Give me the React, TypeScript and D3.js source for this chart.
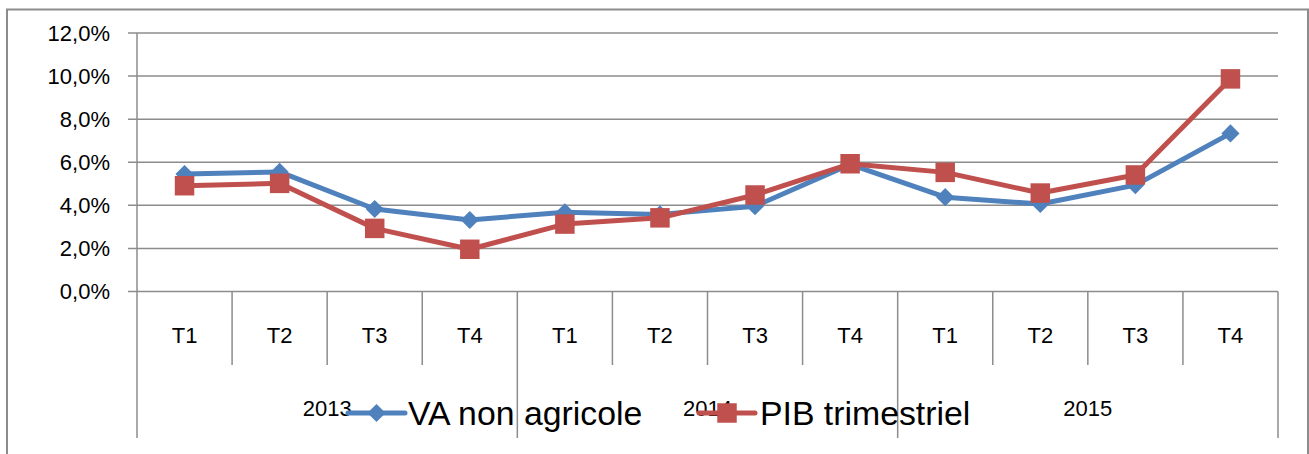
import React, { useEffect, useRef } from "react";
import * as d3 from "d3";

// chart data
const years = ["2013", "2014", "2015"];
const quarters = ["T1", "T2", "T3", "T4"];
const vaNonAgricole = [5.45, 5.55, 3.83, 3.32, 3.68, 3.58, 3.96, 5.9, 4.38, 4.06, 4.94, 7.34];
const pibTrimestriel = [4.91, 5.02, 2.93, 1.96, 3.13, 3.42, 4.48, 5.93, 5.53, 4.57, 5.41, 9.87];
const yTicks = [0, 2, 4, 6, 8, 10, 12];
const seriesNames = ["VA non agricole", "PIB trimestriel"];
const seriesColors = ["#4f81bd", "#c0504d"];

const FONT = "'Liberation Sans', Arial, sans-serif";
const GRID = "#8c8c8c";

const drawChart = (node: SVGSVGElement) => {
  const svg = d3.select(node);
  svg.selectAll("*").remove();

  const left = 137, right = 1278, top = 33, bottom = 291.5;

  // outer frame
  svg.append("rect")
    .attr("x", 7).attr("y", 9.5).attr("width", 1301).attr("height", 470)
    .attr("fill", "#fff").attr("stroke", GRID).attr("stroke-width", 2);

  const keys = years.flatMap(yr => quarters.map(q => yr + "-" + q));
  const x = d3.scaleBand().domain(keys).range([left, right]).padding(0);
  const bw = x.bandwidth();
  const cx = (i: number) => (x(keys[i]) as number) + bw / 2;
  const y = d3.scaleLinear().domain([0, 12]).range([bottom, top]);

  // gridlines + left ticks + labels
  const g = svg.append("g");
  yTicks.forEach(t => {
    g.append("line")
      .attr("x1", 128).attr("x2", right).attr("y1", y(t)).attr("y2", y(t))
      .attr("stroke", GRID).attr("stroke-width", 1.5);
    g.append("text")
      .attr("x", 110).attr("y", y(t)).attr("dy", "0.36em")
      .attr("text-anchor", "end")
      .attr("font-family", FONT).attr("font-size", 22).attr("fill", "#000")
      .text(d3.format(".1f")(t).replace(".", ",") + "%");
  });
  // vertical value axis
  g.append("line")
    .attr("x1", left).attr("x2", left).attr("y1", top).attr("y2", 438)
    .attr("stroke", GRID).attr("stroke-width", 1.5);

  // category separators
  keys.forEach((k, i) => {
    if (i === 0) return;
    const xx = x(k) as number;
    const yearEdge = i % quarters.length === 0;
    g.append("line")
      .attr("x1", xx).attr("x2", xx).attr("y1", bottom).attr("y2", yearEdge ? 438 : 365)
      .attr("stroke", GRID).attr("stroke-width", 1.5);
  });
  g.append("line")
    .attr("x1", right).attr("x2", right).attr("y1", bottom).attr("y2", 438)
    .attr("stroke", GRID).attr("stroke-width", 1.5);

  // quarter labels
  keys.forEach((k, i) => {
    g.append("text")
      .attr("x", cx(i)).attr("y", 343)
      .attr("text-anchor", "middle")
      .attr("font-family", FONT).attr("font-size", 22).attr("fill", "#000")
      .text(quarters[i % quarters.length]);
  });
  // year labels
  years.forEach(yr => {
    const start = x(yr + "-T1") as number;
    g.append("text")
      .attr("x", start + bw * 2).attr("y", 416)
      .attr("text-anchor", "middle")
      .attr("font-family", FONT).attr("font-size", 22).attr("fill", "#000")
      .text(yr);
  });

  // series
  const line = d3.line<number>().x((d, i) => cx(i)).y(d => y(d));
  const diamond = d3.symbol().type(d3.symbolSquare).size(165);
  const square = d3.symbol().type(d3.symbolSquare).size(380);

  [vaNonAgricole, pibTrimestriel].forEach((vals, s) => {
    const sg = svg.append("g");
    sg.append("path")
      .attr("d", line(vals) as string)
      .attr("fill", "none")
      .attr("stroke", seriesColors[s])
      .attr("stroke-width", 5)
      .attr("stroke-linejoin", "round");
    sg.selectAll("path.m")
      .data(vals)
      .enter()
      .append("path")
      .attr("class", "m")
      .attr("d", s === 0 ? diamond() : square())
      .attr("transform", (d, i) => `translate(${cx(i)},${y(d)})` + (s === 0 ? " rotate(45)" : ""))
      .attr("fill", seriesColors[s]);
  });

  // legend
  const legendItems = [
    { x1: 348, x2: 405, tx: 408 },
    { x1: 699, x2: 755, tx: 760 },
  ];
  legendItems.forEach((it, s) => {
    const lg = svg.append("g");
    lg.append("line")
      .attr("x1", it.x1).attr("x2", it.x2).attr("y1", 413).attr("y2", 413)
      .attr("stroke", seriesColors[s]).attr("stroke-width", 5).attr("stroke-linecap", "round");
    lg.append("path")
      .attr("d", s === 0 ? diamond() : square())
      .attr("transform", `translate(${(it.x1 + it.x2) / 2},413)` + (s === 0 ? " rotate(45)" : ""))
      .attr("fill", seriesColors[s]);
    lg.append("text")
      .attr("x", it.tx).attr("y", 425)
      .attr("font-family", FONT).attr("font-size", 33.8).attr("fill", "#000")
      .text(seriesNames[s]);
  });
};

export default function App() {
  const ref = useRef<SVGSVGElement>(null);
  useEffect(() => {
    if (ref.current) drawChart(ref.current);
  }, []);
  return (
    <svg
      ref={ref}
      width={1309}
      height={454}
      style={{ position: "absolute", left: 0, top: 0, background: "#fff" }}
    />
  );
}
